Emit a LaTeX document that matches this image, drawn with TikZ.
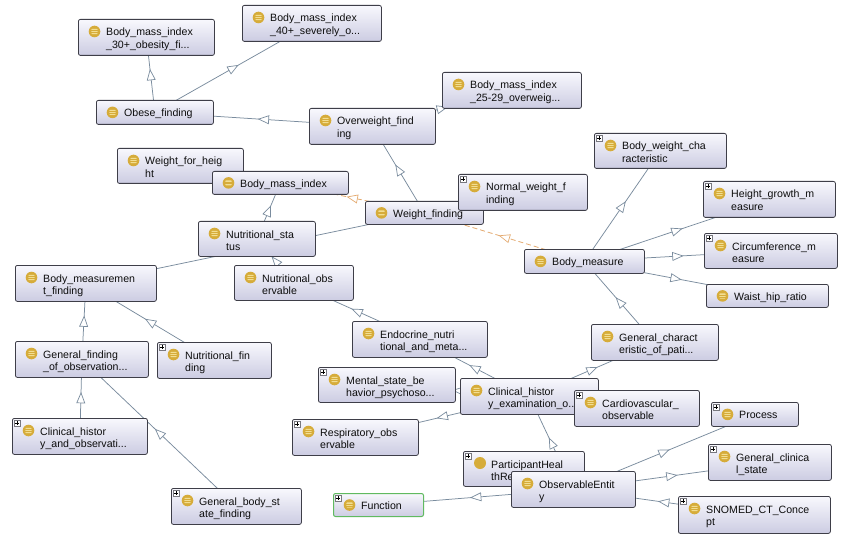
\documentclass[tikz,border=0pt]{standalone}
\usepackage{fontspec}
\setmainfont{Liberation Sans}
\usetikzlibrary{decorations.markings}

\definecolor{boxtop}{RGB}{248,248,253}
\definecolor{boxbot}{RGB}{204,204,226}
\definecolor{boxline}{RGB}{62,62,72}
\definecolor{edgec}{RGB}{122,140,158}
\definecolor{propc}{RGB}{228,170,112}
\definecolor{gold}{RGB}{214,172,58}
\definecolor{goldlt}{RGB}{242,222,146}
\definecolor{greenline}{RGB}{96,186,96}

\pgfdeclarelayer{bg}
\pgfdeclarelayer{edges}
\pgfsetlayers{bg,edges,main}

\tikzset{
  classbox/.style={draw=boxline, line width=0.8pt, rounded corners=2pt,
    top color=boxtop, bottom color=boxbot, inner sep=0pt, anchor=north west},
  classtext/.style={inner sep=0pt, anchor=base west, text=black!95,
    font=\fontsize{10.6}{12.5}\selectfont},
  midtri/.style={postaction={decorate}, decoration={markings,
    mark=at position 0.5 with {\draw[draw=#1, fill=white, solid, line width=0.7pt]
      (5pt,0pt) -- (-5pt,4pt) -- (-5pt,-4pt) -- cycle;}}},
  isa/.style={draw=edgec, line width=0.75pt, midtri=edgec},
  prop/.style={draw=propc, line width=0.8pt, dash pattern=on 5pt off 3pt, midtri=propc},
  classicon/.pic={
    \fill[gold] (0,0) circle[radius=5.8pt];
    \fill[goldlt, rounded corners=0.8pt] (-3.2pt,-2.6pt) rectangle (3.2pt,2.6pt);
    \draw[gold, line width=0.6pt] (-3.2pt,0.9pt) -- (3.2pt,0.9pt) (-3.2pt,-0.9pt) -- (3.2pt,-0.9pt);
  }
}

% one-line class box: [box options]{name}{x1}{y1}{x2}{y2}{text}
\newcommand{\ogone}[7][]{%
  \node[classbox,#1,minimum width={#5pt-#3pt},minimum height={#6pt-#4pt}] (#2) at (#3,#4) {};
  \pic at ([xshift=16.5pt]#2.west) {classicon};
  \node[classtext] (#2-t) at ([xshift=28pt,yshift=-4.3pt]#2.west) {#7};
}
% two-line class box: [box options]{name}{x1}{y1}{x2}{y2}{line 1}{line 2}
\newcommand{\ogtwo}[8][]{%
  \node[classbox,#1,minimum width={#5pt-#3pt},minimum height={#6pt-#4pt}] (#2) at (#3,#4) {};
  \pic at ([xshift=16.5pt,yshift=-12.5pt]#2.north west) {classicon};
  \node[classtext] (#2-t) at ([xshift=28pt,yshift=-17pt]#2.north west) {\vtop{\hbox{#7}\hbox{#8}}};
}
% expand marker in the upper left corner of a box
\newcommand{\ogplus}[1]{%
  \draw[draw=boxline!70, fill=white, line width=0.5pt]
    ([xshift=2pt,yshift=-2pt]#1.north west) rectangle ++(6pt,-6pt);
  \draw[line width=0.7pt]
    ([xshift=5pt,yshift=-3.3pt]#1.north west) -- ++(0pt,-3.4pt)
    ([xshift=3.3pt,yshift=-5pt]#1.north west) -- ++(3.4pt,0pt);
}

\begin{document}
\begin{tikzpicture}[x=1pt,y=-1pt]
\useasboundingbox (0,0) rectangle (850,537);
\begin{pgfonlayer}{bg}
  \fill[white] (0,0) rectangle (850,537);
\end{pgfonlayer}

% classes
\ogtwo{bmi30}{78}{19}{214}{55}{Body\_mass\_index}{\_30+\_obesity\_fi...}
\ogtwo{bmi40}{242}{5}{381}{41}{Body\_mass\_index}{\_40+\_severely\_o...}
\ogtwo{bmi25}{442}{72}{581}{108}{Body\_mass\_index}{\_25-29\_overweig...}
\ogone{obese}{96}{100}{213}{124}{Obese\_finding}
\ogtwo{overw}{309}{108}{435}{144}{Overweight\_find}{ing}
\ogtwo{wfh}{117}{148}{243}{183}{Weight\_for\_heig}{ht}
\ogone{bmi}{212}{171}{348}{194}{Body\_mass\_index}
\ogtwo{bwc}{594}{133}{726}{168}{Body\_weight\_cha}{racteristic}\ogplus{bwc}
\ogone{wf}{365}{201}{483}{224}{Weight\_finding}
\ogtwo{nwf}{458}{174}{587}{210}{Normal\_weight\_f}{inding}\ogplus{nwf}
\ogtwo{nstat}{198}{221}{315}{256}{Nutritional\_sta}{tus}
\ogtwo{bmf}{15}{265}{156}{301}{Body\_measuremen}{t\_finding}
\ogtwo{nobs}{234}{265}{353}{300}{Nutritional\_obs}{ervable}
\ogone{bm}{524}{249}{644}{273}{Body\_measure}
\ogtwo{hgm}{703}{181}{835}{217}{Height\_growth\_m}{easure}\ogplus{hgm}
\ogtwo{circ}{704}{233}{837}{268}{Circumference\_m}{easure}\ogplus{circ}
\ogone{whr}{706}{284}{828}{307}{Waist\_hip\_ratio}
\ogtwo{gcp}{591}{324}{718}{360}{General\_charact}{eristic\_of\_pati...}
\ogtwo{endo}{352}{321}{487}{357}{Endocrine\_nutri}{tional\_and\_meta...}
\ogtwo{gfo}{15}{341}{148}{377}{General\_finding}{\_of\_observation...}
\ogtwo{nfin}{157}{342}{271}{378}{Nutritional\_fin}{ding}\ogplus{nfin}
\ogtwo{mental}{318}{367}{455}{402}{Mental\_state\_be}{havior\_psychoso...}\ogplus{mental}
\ogtwo{che}{460}{378}{598}{414}{Clinical\_histor}{y\_examination\_o...}
\ogtwo{cardio}{574}{390}{699}{426}{Cardiovascular\_}{observable}\ogplus{cardio}
\ogtwo{chao}{12}{418}{147}{454}{Clinical\_histor}{y\_and\_observati...}\ogplus{chao}
\ogtwo{resp}{292}{419}{418}{455}{Respiratory\_obs}{ervable}\ogplus{resp}
\ogone{process}{711}{402}{798}{426}{Process}\ogplus{process}
\ogtwo{gcs}{708}{444}{831}{480}{General\_clinica}{l\_state}\ogplus{gcs}
% individual-style entry with a plain disc
\node[classbox,minimum width=121pt,minimum height=35pt] (phr) at (463,451) {};
\fill[gold] ([xshift=17pt,yshift=-12pt]phr.north west) circle[radius=6pt];
\node[classtext] (phr-t) at ([xshift=28pt,yshift=-17pt]phr.north west) {\vtop{\hbox{ParticipantHeal}\hbox{thRe}}};
\ogplus{phr}
\ogtwo{oe}{511}{471}{635}{507}{ObservableEntit}{y}
\ogtwo{snomed}{678}{496}{830}{533}{SNOMED\_CT\_Conce}{pt}\ogplus{snomed}
\ogtwo{gbsf}{171}{488}{301}{524}{General\_body\_st}{ate\_finding}\ogplus{gbsf}
\ogone[draw=greenline, line width=1pt]{func}{333}{493}{423}{516}{Function}\ogplus{func}

% connectors, centre to centre, behind the boxes
\begin{pgfonlayer}{edges}
\draw[isa] (obese.center) -- (bmi30.center);
\draw[isa] (obese.center) -- (bmi40.center);
\draw[isa] (overw.center) -- (obese.center);
\draw[isa] (overw.center) -- (bmi25.center);
\draw[isa] (wf.center) -- (overw.center);
\draw[prop] (wf.center) -- (bmi.center);
\draw[isa] (bmf.center) -- (wf.center);
\draw[isa] (nstat.center) -- (bmi.center);
\draw[isa] (nobs.center) -- (nstat.center);
\draw[isa] (endo.center) -- (nobs.center);
\draw[isa] (gfo.center) -- (bmf.center);
\draw[isa] (nfin.center) -- (bmf.center);
\draw[isa] (chao.center) -- (gfo.center);
\draw[isa] (gbsf.center) -- (gfo.center);
\draw[prop] (bm.center) -- (wf.center);
\draw[isa] (bm.center) -- (bwc.center);
\draw[isa] (bm.center) -- (hgm.center);
\draw[isa] (bm.center) -- (circ.center);
\draw[isa] (bm.center) -- (whr.center);
\draw[isa] (gcp.center) -- (bm.center);
\draw[isa] (che.center) -- (endo.center);
\draw[isa] (che.center) -- (gcp.center);
\draw[isa] (che.center) -- (mental.center);
\draw[isa] (che.center) -- (resp.center);
\draw[isa] (oe.center) -- (che.center);
\draw[isa] (oe.center) -- (func.center);
\draw[isa] (oe.center) -- (process.center);
\draw[isa] (oe.center) -- (gcs.center);
\draw[isa] (snomed.center) -- (oe.center);
\end{pgfonlayer}
\end{tikzpicture}
\end{document}
